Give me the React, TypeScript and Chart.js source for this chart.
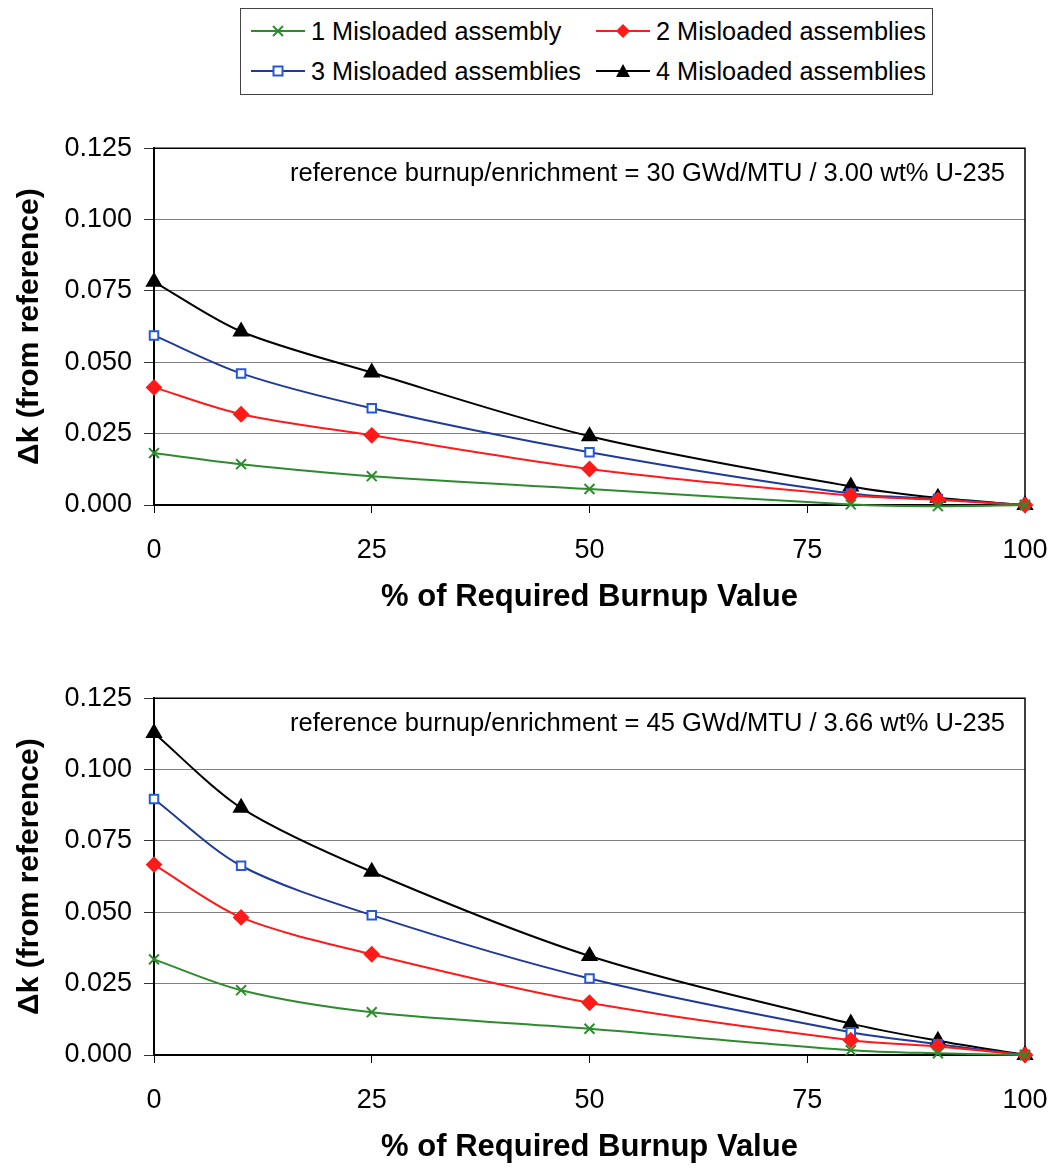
import React, { useEffect, useRef } from "react";
import { Chart, registerables } from "chart.js";

Chart.register(...registerables);

// ---------- data ----------
const xValues = [0, 10, 25, 50, 80, 90, 100];
const seriesLabels = [
  "1 Misloaded assembly",
  "2 Misloaded assemblies",
  "3 Misloaded assemblies",
  "4 Misloaded assemblies",
];
const xTickValues = [0, 25, 50, 75, 100];
const yTickValues = [0, 0.025, 0.05, 0.075, 0.1, 0.125];

// top panel: 30 GWd/MTU / 3.00 wt%
const top1 = [0.0182, 0.0143, 0.0101, 0.0056, 0.0002, -0.0004, 0];
const top2 = [0.0412, 0.0318, 0.0244, 0.0126, 0.0033, 0.0018, 0];
const top3 = [0.0594, 0.0461, 0.0339, 0.0185, 0.0040, 0.0021, 0];
const top4 = [0.0782, 0.0608, 0.0464, 0.0241, 0.0065, 0.0025, 0];

// bottom panel: 45 GWd/MTU / 3.66 wt%
const bot1 = [0.0335, 0.0227, 0.0150, 0.0092, 0.0017, 0.0006, 0];
const bot2 = [0.0667, 0.0482, 0.0353, 0.0183, 0.0052, 0.0030, 0];
const bot3 = [0.0897, 0.0663, 0.0490, 0.0268, 0.0080, 0.0038, 0];
const bot4 = [0.1128, 0.0866, 0.0642, 0.0347, 0.0110, 0.0050, 0];

const topNote = "reference burnup/enrichment = 30 GWd/MTU / 3.00 wt% U-235";
const botNote = "reference burnup/enrichment = 45 GWd/MTU / 3.66 wt% U-235";
const xTitle = "% of Required Burnup Value";
const yTitle = "\u0394k (from reference)";

// ---------- styles ----------
const FONT = '"Liberation Sans", Arial, Helvetica, sans-serif';
const styles = [
  { line: "#2e8b2e", pointStyle: "crossRot", radius: 7, fill: "#2e8b2e", stroke: "#2e8b2e" },
  { line: "#ff1a1a", pointStyle: "rectRot", radius: 7, fill: "#ff1a1a", stroke: "#ff1a1a" },
  { line: "#1f3a9a", pointStyle: "rect", radius: 6, fill: "#ffffff", stroke: "#2458dd" },
  { line: "#000000", pointStyle: "triangle", radius: 8, fill: "#000000", stroke: "#000000" },
];

const framePlugin = {
  id: "frame",
  beforeDatasetsDraw(chart: any) {
    const { ctx, chartArea } = chart;
    ctx.save();
    ctx.strokeStyle = "#000";
    ctx.lineWidth = 1.5;
    ctx.beginPath();
    ctx.moveTo(chartArea.left, chartArea.top);
    ctx.lineTo(chartArea.right, chartArea.top);
    ctx.lineTo(chartArea.right, chartArea.bottom);
    ctx.stroke();
    ctx.restore();
  },
};

const notePlugin = {
  id: "note",
  afterDraw(chart: any, _args: any, opts: any) {
    const { ctx, chartArea } = chart;
    ctx.save();
    ctx.font = `25.5px ${FONT}`;
    ctx.fillStyle = "#000";
    ctx.textAlign = "right";
    ctx.textBaseline = "middle";
    ctx.fillText(opts.text, chartArea.right - 20, chartArea.top + 26);
    ctx.restore();
  },
};

function Panel(props: { data: number[][]; note: string; height: number; titlePad: number }) {
  const ref = useRef<HTMLCanvasElement>(null);
  useEffect(() => {
    const canvas = ref.current!;
    const chart = new Chart(canvas, {
      type: "line",
      data: {
        datasets: props.data.map((vals, i) => ({
          label: seriesLabels[i],
          data: vals.map((v, j) => ({ x: xValues[j], y: v })),
          borderColor: styles[i].line,
          borderWidth: 2,
          pointStyle: styles[i].pointStyle as any,
          pointRadius: styles[i].radius,
          pointBackgroundColor: styles[i].fill,
          pointBorderColor: styles[i].stroke,
          pointBorderWidth: 2,
          tension: 0.3,
          clip: false as any,
        })),
      },
      options: {
        animation: false,
        responsive: false,
        devicePixelRatio: 1,
        layout: { padding: { top: 27, right: 28, left: 0, bottom: 0 } },
        plugins: {
          legend: { display: false },
          tooltip: { enabled: false },
          note: { text: props.note },
        } as any,
        scales: {
          x: {
            type: "linear",
            min: 0,
            max: 100,
            afterBuildTicks: (s: any) => {
              s.ticks = xTickValues.map((v) => ({ value: v }));
            },
            afterFit: (s: any) => {
              s.height = props.height - 385;
              s.paddingRight = 0;
              s.paddingLeft = 0;
            },
            ticks: {
              font: { family: FONT, size: 27 },
              color: "#000",
              padding: 21,
              maxRotation: 0,
            },
            grid: {
              display: true,
              drawOnChartArea: false,
              drawTicks: true,
              tickLength: 8,
              color: "#000",
              lineWidth: 1,
            },
            border: { display: true, color: "#000", width: 2 },
            title: {
              display: true,
              text: xTitle,
              color: "#000",
              font: { family: FONT, size: 31, weight: "bold" },
              padding: { top: 0, bottom: props.titlePad },
            },
          },
          y: {
            type: "linear",
            min: 0,
            max: 0.125,
            afterBuildTicks: (s: any) => {
              s.ticks = yTickValues.map((v) => ({ value: v }));
            },
            afterFit: (s: any) => {
              s.width = 154;
            },
            ticks: {
              font: { family: FONT, size: 27 },
              color: "#000",
              padding: 12,
              callback: (v: any) => Number(v).toFixed(3),
            },
            grid: {
              color: "#808080",
              lineWidth: 1,
              drawTicks: true,
              tickLength: 10,
              tickColor: "#333",
            },
            border: { display: true, color: "#000", width: 2 },
            title: {
              display: true,
              text: yTitle,
              color: "#000",
              font: { family: FONT, size: 30, weight: "bold" },
              padding: { top: 12, bottom: 0 },
            },
          },
        },
      },
      plugins: [framePlugin, notePlugin],
    } as any);
    return () => chart.destroy();
  }, []);
  return (
    <canvas
      ref={ref}
      width={1053}
      height={props.height}
      style={{ width: 1053, height: props.height, display: "block" }}
    />
  );
}

function LegendMarker({ i }: { i: number }) {
  const s = styles[i];
  const cx = 27;
  const cy = 10;
  let mark: any = null;
  if (s.pointStyle === "crossRot") {
    mark = (
      <g stroke={s.stroke} strokeWidth={2}>
        <line x1={cx - 5} y1={cy - 5} x2={cx + 5} y2={cy + 5} />
        <line x1={cx - 5} y1={cy + 5} x2={cx + 5} y2={cy - 5} />
      </g>
    );
  } else if (s.pointStyle === "rectRot") {
    mark = <polygon points={`${cx},${cy - 7} ${cx + 7},${cy} ${cx},${cy + 7} ${cx - 7},${cy}`} fill={s.fill} />;
  } else if (s.pointStyle === "rect") {
    mark = <rect x={cx - 4.5} y={cy - 4.5} width={9} height={9} fill="#fff" stroke={s.stroke} strokeWidth={2} />;
  } else {
    mark = <polygon points={`${cx},${cy - 7} ${cx + 7},${cy + 6} ${cx - 7},${cy + 6}`} fill={s.fill} />;
  }
  return (
    <svg width={54} height={20} style={{ display: "block" }}>
      <line x1={0} y1={cy} x2={54} y2={cy} stroke={s.line} strokeWidth={2} />
      {mark}
    </svg>
  );
}

function Legend() {
  const pos = [
    { i: 0, left: 10, top: 30 },
    { i: 1, left: 355, top: 30 },
    { i: 2, left: 10, top: 70 },
    { i: 3, left: 355, top: 70 },
  ];
  return (
    <div
      style={{
        position: "absolute",
        left: 240,
        top: 8,
        width: 693,
        height: 87,
        border: "1.5px solid #444",
        boxSizing: "border-box",
        background: "#fff",
      }}
    >
      {pos.map((p) => (
        <div
          key={p.i}
          style={{
            position: "absolute",
            left: p.left,
            top: p.top - 8 - 10,
            height: 20,
            display: "flex",
            alignItems: "center",
            whiteSpace: "nowrap",
          }}
        >
          <LegendMarker i={p.i} />
          <span
            style={{
              marginLeft: 6,
              fontFamily: FONT,
              fontSize: 25.3,
              lineHeight: "20px",
              color: "#000",
            }}
          >
            {seriesLabels[p.i]}
          </span>
        </div>
      ))}
    </div>
  );
}

export default function App() {
  return (
    <div
      style={{
        position: "absolute",
        left: 0,
        top: 0,
        width: 1053,
        height: 1172,
        background: "#fff",
        overflow: "hidden",
      }}
    >
      <Legend />
      <div style={{ position: "absolute", left: 0, top: 120 }}>
        <Panel data={[top1, top2, top3, top4]} note={topNote} height={520} titlePad={24} />
      </div>
      <div style={{ position: "absolute", left: 0, top: 670 }}>
        <Panel data={[bot1, bot2, bot3, bot4]} note={botNote} height={502} titlePad={6} />
      </div>
    </div>
  );
}
